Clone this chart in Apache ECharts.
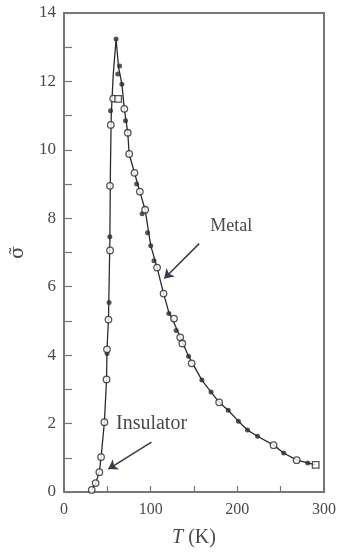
<!DOCTYPE html>
<html>
<head>
<meta charset="utf-8">
<script src="https://cdn.jsdelivr.net/npm/echarts@6/dist/echarts.min.js"></script>
<style>
html,body{margin:0;padding:0;background:#fff;}
#c{width:339px;height:556px;}
</style>
</head>
<body>
<div id="c"></div>
<script>
// Traced curve (temperature T in K, reduced conductivity)
var curveT = [32, 36.5, 40.8, 42.8, 46.6, 49.1, 49.6, 51.3, 52.9, 53.6, 54.5, 56.8, 60.1, 63, 66.8, 69.6, 73.6, 75.2, 81.3, 87.5, 93.6, 100.1, 107.4, 114.9, 121, 126.9, 134.1, 143.7, 159.1, 169.7, 179, 189.5, 201.2, 211.7, 223.3, 241.8, 253.5, 268.5, 281.2, 290.4];
var curveS = [0.06, 0.26, 0.58, 1.02, 2.04, 3.29, 4.17, 5.04, 7.3, 9.5, 11.0, 12.2, 13.24, 12.4, 11.92, 11.2, 10.5, 9.88, 9.33, 8.78, 8.25, 7.2, 6.56, 5.8, 5.25, 4.95, 4.52, 3.97, 3.27, 2.92, 2.62, 2.39, 2.07, 1.81, 1.63, 1.37, 1.14, 0.93, 0.85, 0.79];

// Open circles
var openT = [32, 36.5, 40.8, 42.8, 46.6, 49.1, 49.6, 51.3, 53.2, 53.0, 54.0, 56.8, 69.6, 73.6, 75.2, 81.3, 87.5, 93.6, 107.4, 114.9, 126.9, 134.1, 136.5, 147.3, 179, 241.8, 268.5];
var openS = [0.06, 0.26, 0.58, 1.02, 2.04, 3.29, 4.17, 5.04, 7.06, 8.95, 10.73, 11.5, 11.2, 10.5, 9.88, 9.33, 8.78, 8.25, 6.56, 5.8, 5.07, 4.52, 4.34, 3.76, 2.62, 1.37, 0.93];

// Open squares
var squareT = [62.5, 290.4];
var squareS = [11.49, 0.79];

// Filled dots
var filledT = [49.7, 52.0, 52.9, 53.7, 60.1, 64.1, 62.0, 66.8, 71.0, 83.8, 90.2, 96.4, 100.1, 103.8, 121.0, 129.4, 143.7, 159.1, 169.7, 189.5, 201.2, 211.7, 223.3, 253.5, 281.2];
var filledS = [4.05, 5.54, 7.46, 11.14, 13.24, 12.45, 12.22, 11.92, 10.85, 9.0, 8.13, 7.58, 7.2, 6.76, 5.22, 4.72, 3.97, 3.27, 2.92, 2.39, 2.07, 1.81, 1.63, 1.14, 0.85];

// Axis ticks
var xTicks = [0, 100, 200, 300];
var yTicks = [0, 2, 4, 6, 8, 10, 12, 14];

function pairs(a, b) { return a.map(function (v, i) { return [v, b[i]]; }); }

var ink = '#2b2b2b';
var axisCol = '#777777';
var textCol = '#4a4a4a';
var serif = '"Liberation Serif", "DejaVu Serif", serif';

var chart = echarts.init(document.getElementById('c'), null, {renderer: 'canvas'});
chart.setOption({
  animation: false,
  backgroundColor: '#ffffff',
  grid: {left: 64, right: 12, top: 13, bottom: 64, show: true, borderColor: axisCol, borderWidth: 2},
  xAxis: {
    type: 'value', min: xTicks[0], max: xTicks[xTicks.length - 1], interval: 100,
    name: '{i|T} (K)', nameLocation: 'middle', nameGap: 36,
    nameTextStyle: {fontFamily: serif, fontSize: 20, color: textCol,
      rich: {i: {fontFamily: serif, fontStyle: 'italic', fontSize: 20, color: textCol}}},
    axisLine: {show: true, lineStyle: {color: axisCol, width: 2}},
    axisTick: {show: true, inside: true, length: 6, lineStyle: {color: axisCol, width: 1.2}},
    minorTick: {show: true, splitNumber: 2, length: 6, lineStyle: {color: axisCol, width: 1.2}},
    axisLabel: {fontFamily: serif, fontSize: 16, color: textCol, margin: 10},
    splitLine: {show: false}
  },
  yAxis: {
    type: 'value', min: yTicks[0], max: yTicks[yTicks.length - 1], interval: 2,
    name: 'σ\u0303', nameLocation: 'middle', nameGap: 36, nameRotate: 90,
    nameTextStyle: {fontFamily: '"DejaVu Serif", serif', fontSize: 19, color: textCol},
    axisLine: {show: true, lineStyle: {color: axisCol, width: 2}},
    axisTick: {show: true, inside: true, length: 8, lineStyle: {color: axisCol, width: 1.2}},
    minorTick: {show: true, splitNumber: 2, length: 8, lineStyle: {color: axisCol, width: 1.2}},
    axisLabel: {fontFamily: serif, fontSize: 17, color: textCol, margin: 8},
    splitLine: {show: false}
  },
  series: [
    {
      type: 'line', data: pairs(curveT, curveS), showSymbol: false, symbol: 'none',
      lineStyle: {color: ink, width: 1.3}, z: 2,
      markLine: {
        silent: true, symbol: ['none', 'arrow'], symbolSize: 9,
        lineStyle: {color: '#3a3a4a', width: 1.5, type: 'solid'},
        label: {show: false},
        data: [
          [{coord: [156, 7.26]}, {coord: [115.7, 6.24]}],
          [{coord: [100.9, 1.46]}, {coord: [51.1, 0.67]}]
        ]
      },
      markPoint: {
        silent: true, symbol: 'circle', symbolSize: 0,
        label: {show: true, position: 'inside', fontFamily: serif, color: textCol},
        data: [
          {coord: [193, 7.78], label: {formatter: 'Metal', fontSize: 18}},
          {coord: [101, 2.0], label: {formatter: 'Insulator', fontSize: 20}}
        ]
      }
    },
    {
      type: 'scatter', data: pairs(filledT, filledS), symbol: 'circle', symbolSize: 5,
      itemStyle: {color: ink}, z: 3
    },
    {
      type: 'scatter', data: pairs(openT, openS), symbol: 'circle', symbolSize: 6.5,
      itemStyle: {color: '#ffffff', borderColor: ink, borderWidth: 1.3}, z: 4
    },
    {
      type: 'scatter', data: pairs(squareT, squareS), symbol: 'rect', symbolSize: 6.5,
      itemStyle: {color: '#ffffff', borderColor: ink, borderWidth: 1.3}, z: 4
    }
  ]
});
</script>
</body>
</html>
